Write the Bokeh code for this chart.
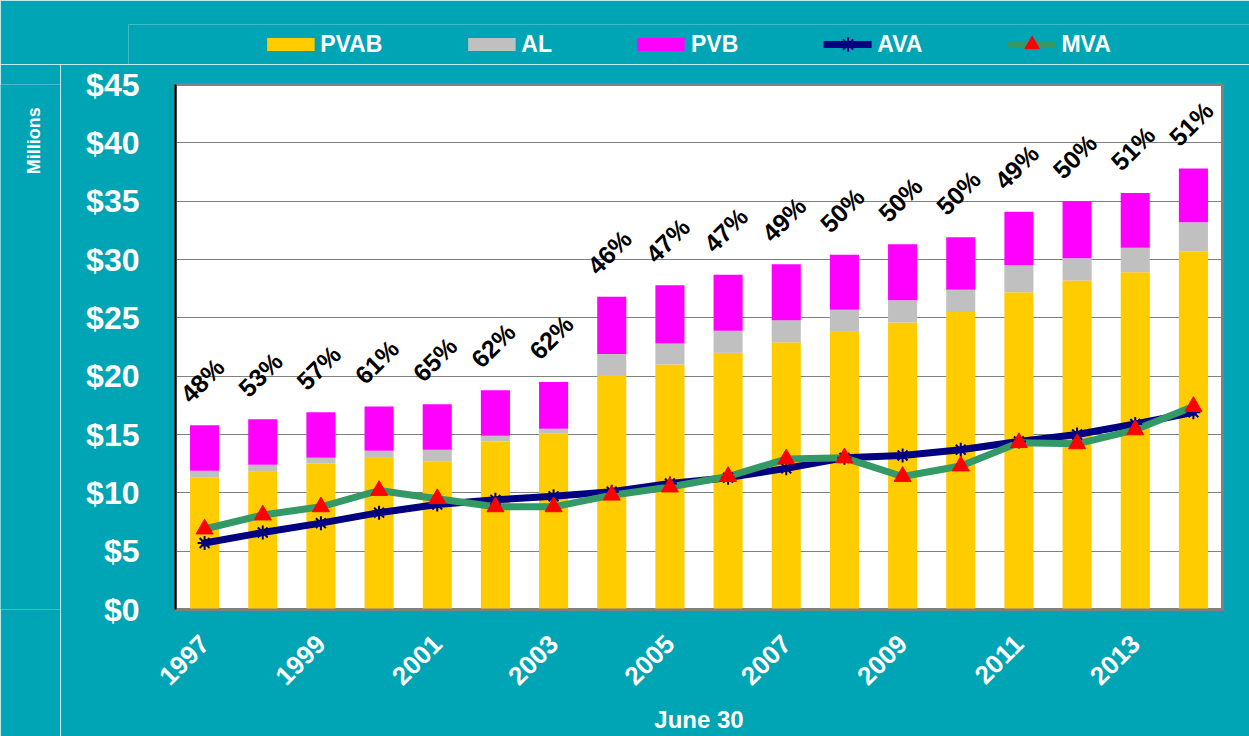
import math
from bokeh.plotting import figure
from bokeh.layouts import column, row
from bokeh.models import (ColumnDataSource, FixedTicker, NumeralTickFormatter, Legend,
                          LegendItem, Range1d)
from bokeh.embed import file_html
from bokeh.resources import INLINE
from bokeh.core.properties import value

# ---------------- data ----------------
years = list(range(1997, 2015))
pvab = [11.3, 11.8, 12.5, 13.0, 12.7, 14.4, 15.1, 20.1, 21.0, 22.0, 22.9, 23.8, 24.6, 25.5, 27.2, 28.2, 28.9, 30.7]
al = [0.6, 0.6, 0.5, 0.6, 1.0, 0.5, 0.4, 1.8, 1.8, 1.9, 1.9, 1.9, 1.9, 1.9, 2.3, 1.9, 2.1, 2.5]
pvb = [3.9, 3.9, 3.9, 3.8, 3.9, 3.9, 4.0, 4.9, 5.0, 4.8, 4.8, 4.7, 4.8, 4.5, 4.6, 4.9, 4.7, 4.6]
ava = [5.7, 6.6, 7.4, 8.3, 9.0, 9.4, 9.7, 10.1, 10.8, 11.3, 12.1, 13.0, 13.2, 13.7, 14.4, 15.0, 15.9, 16.9]
mva = [6.9, 8.1, 8.8, 10.2, 9.5, 8.8, 8.8, 9.8, 10.5, 11.4, 12.9, 13.0, 11.4, 12.3, 14.3, 14.2, 15.4, 17.4]
pct = [48, 53, 57, 61, 65, 62, 62, 46, 47, 47, 49, 50, 50, 50, 49, 50, 51, 51]
y_ticks = [0, 5, 10, 15, 20, 25, 30, 35, 40, 45]
x_ticks = [1997, 1999, 2001, 2003, 2005, 2007, 2009, 2011, 2013]

totals = [a + b + c for a, b, c in zip(pvab, al, pvb)]
src = ColumnDataSource(dict(year=years, pvab=pvab, al=al, pvb=pvb, ava=ava, mva=mva,
                            total=totals, pct_label=[f"{v}%" for v in pct]))

TEAL = "#00A5B5"
FONT = "Liberation Sans"
C_PVAB, C_AL, C_PVB = "#FFCC00", "#C0C0C0", "#FF00FF"
C_AVA, C_MVA, C_TRI = "#000080", "#339966", "#FF0000"

# ---------------- main chart ----------------
p = figure(width=1189, height=672,
           x_range=Range1d(1996.5, 2014.5), y_range=Range1d(0, 45),
           output_backend="svg", toolbar_location=None,
           background_fill_color="white", border_fill_color=TEAL,
           min_border_left=115, min_border_right=27, min_border_top=20, min_border_bottom=124)

bars = p.vbar_stack(["pvab", "al", "pvb"], x="year", width=0.5, source=src,
                    fill_color=[C_PVAB, C_AL, C_PVB], line_color=None)

p.line("year", "ava", source=src, line_color=C_AVA, line_width=7,
       line_join="round", line_cap="round")
p.line("year", "mva", source=src, line_color=C_MVA, line_width=7,
       line_join="round", line_cap="round")
p.scatter("year", "ava", source=src, marker="asterisk", size=14,
          line_color=C_AVA, line_width=2)
p.scatter("year", "mva", source=src, marker="triangle", size=17,
          fill_color=C_TRI, line_color=C_TRI)

p.text(x="year", y="total", text="pct_label", source=src, angle=45, angle_units="deg",
       text_font=value(FONT), text_font_style="bold", text_font_size="25px",
       text_color="black", text_align="left", text_baseline="alphabetic",
       x_offset=-20, y_offset=-27)

p.yaxis.ticker = FixedTicker(ticks=y_ticks)
p.yaxis.formatter = NumeralTickFormatter(format="$0")
p.yaxis.major_label_text_font = FONT
p.yaxis.major_label_text_font_size = "32px"
p.yaxis.major_label_text_font_style = "bold"
p.yaxis.major_label_text_color = "white"
p.yaxis.major_label_standoff = 30
p.yaxis.major_tick_line_color = None
p.yaxis.minor_tick_line_color = None
p.yaxis.axis_line_color = "black"
p.yaxis.axis_line_width = 2

p.xaxis.ticker = FixedTicker(ticks=x_ticks)
p.xaxis.major_label_orientation = math.pi / 4
p.xaxis.major_label_text_font = FONT
p.xaxis.major_label_text_font_size = "26px"
p.xaxis.major_label_text_font_style = "bold"
p.xaxis.major_label_text_color = "white"
p.xaxis.major_label_standoff = 24
p.xaxis.major_tick_line_color = None
p.xaxis.minor_tick_line_color = None
p.xaxis.axis_line_color = "#808080"
p.xaxis.axis_line_width = 2
p.xaxis.axis_label = "June 30"
p.xaxis.axis_label_text_font = FONT
p.xaxis.axis_label_text_font_size = "24px"
p.xaxis.axis_label_text_font_style = "bold"
p.xaxis.axis_label_text_color = "white"
p.xaxis.axis_label_standoff = 10

p.xgrid.visible = False
p.ygrid.ticker = FixedTicker(ticks=y_ticks)
p.ygrid.grid_line_color = "#808080"
p.ygrid.grid_line_width = 1
p.outline_line_color = "#808080"
p.outline_line_width = 3

# ---------------- "Millions" strip on the left ----------------
m = figure(width=60, height=672, x_range=Range1d(0, 60), y_range=Range1d(0, 672),
           output_backend="svg", toolbar_location=None,
           x_axis_location=None, y_axis_location=None,
           background_fill_color=TEAL, border_fill_color=TEAL, outline_line_color=None,
           min_border_left=0, min_border_right=0, min_border_top=0, min_border_bottom=0)
m.grid.visible = False
m.text(x=[33], y=[600], text=["Millions"], angle=90, angle_units="deg",
       text_font=value(FONT), text_font_style="bold", text_font_size="18px",
       text_color="white", text_align="center", text_baseline="middle")

# ---------------- legend strip on top ----------------
lg = figure(width=1249, height=64, x_range=Range1d(1996.5, 2014.5), y_range=Range1d(1000, 1001),
            output_backend="svg", toolbar_location=None,
            x_axis_location=None, y_axis_location=None,
            background_fill_color=TEAL, border_fill_color=TEAL, outline_line_color=None,
            min_border_left=128, min_border_right=0, min_border_top=24, min_border_bottom=0)
lg.grid.visible = False
# the series drawn off-range (outside the visible window) so only legend keys show
k_pvab = lg.line("year", "pvab", source=src, line_color=C_PVAB, line_width=13, line_cap="butt")
k_al = lg.line("year", "al", source=src, line_color=C_AL, line_width=13, line_cap="butt")
k_pvb = lg.line("year", "pvb", source=src, line_color=C_PVB, line_width=13, line_cap="butt")
k_ava_l = lg.line("year", "ava", source=src, line_color=C_AVA, line_width=7, line_cap="round")
k_ava_m = lg.scatter("year", "ava", source=src, marker="asterisk", size=14,
                     line_color=C_AVA, line_width=2)
k_mva_l = lg.line("year", "mva", source=src, line_color=C_MVA, line_width=7, line_cap="round")
k_mva_m = lg.scatter("year", "mva", source=src, marker="triangle", size=17,
                     fill_color=C_TRI, line_color=C_TRI)

legend = Legend(items=[LegendItem(label="PVAB", renderers=[k_pvab]),
                       LegendItem(label="AL", renderers=[k_al]),
                       LegendItem(label="PVB", renderers=[k_pvb]),
                       LegendItem(label="AVA", renderers=[k_ava_l, k_ava_m]),
                       LegendItem(label="MVA", renderers=[k_mva_l, k_mva_m])],
                orientation="horizontal", location="center", spacing=85, label_standoff=6,
                glyph_width=48, glyph_height=36, label_height=20,
                label_text_font=FONT, label_text_font_size="23px", label_text_font_style="bold",
                label_text_color="white", background_fill_alpha=0, border_line_alpha=0,
                padding=0, margin=0)
lg.add_layout(legend)

layout = column(lg, row(m, p, spacing=0), spacing=0)

open("out.html", "w").write(file_html(layout, INLINE))
